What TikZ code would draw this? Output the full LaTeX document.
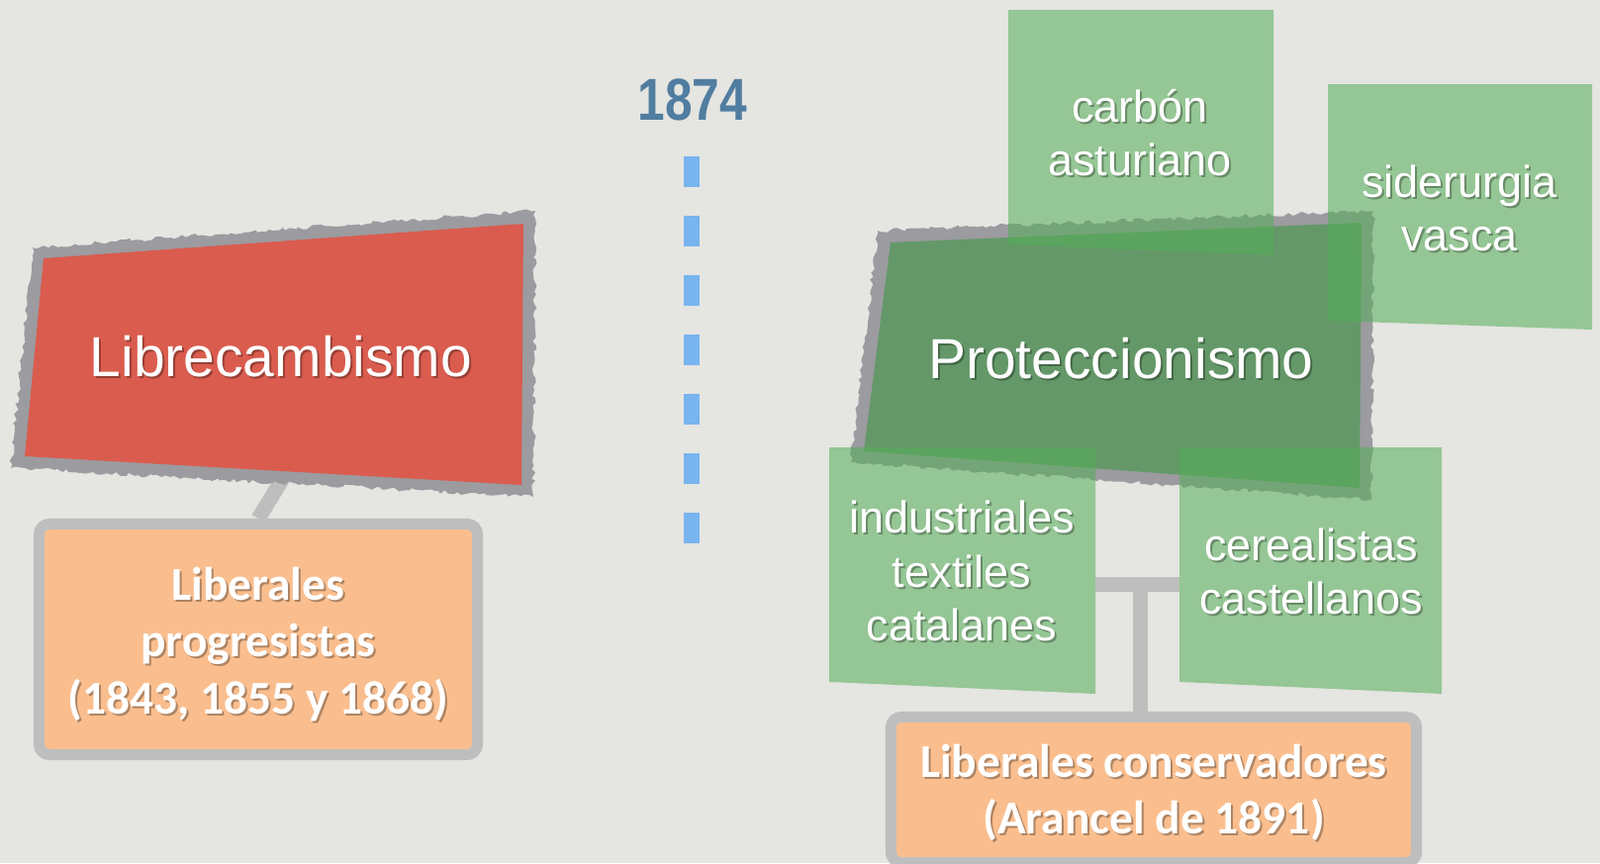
\documentclass[tikz,border=0pt]{standalone}
\usepackage{fontspec}
\setmainfont{Liberation Sans}
\newfontfamily\calibri{Carlito}
\newfontfamily\yearfont[FakeStretch=0.83]{Liberation Sans}
\usetikzlibrary{calc, positioning, decorations.pathmorphing}
\definecolor{paper}{RGB}{229,229,225}
\definecolor{librered}{RGB}{218,92,78}
\definecolor{edgegray}{RGB}{155,155,160}
\definecolor{linkgray}{RGB}{190,190,190}
\definecolor{partyorange}{RGB}{250,190,142}
\definecolor{protgreen}{RGB}{100,152,104}
\definecolor{sectorgreen}{RGB}{85,174,88}
\definecolor{yearblue}{RGB}{80,125,160}
\definecolor{dashblue}{RGB}{120,180,240}
\tikzset{
  roughedge/.style={fill=edgegray, decorate,
    decoration={random steps, segment length=1.2pt, amplitude=0.6pt}},
  partybox/.style={rectangle, rounded corners=3pt, fill=partyorange,
    draw=linkgray, line width=0.11cm, inner sep=0pt},
  sectorbox/.style={fill=sectorgreen, fill opacity=0.55},
  link/.style={draw=linkgray, line width=0.15cm},
  bigtext/.style={font=\fontsize{16.2}{19.5}\selectfont},
  sectortext/.style={font=\fontsize{12.8}{15.4}\selectfont, align=center},
  partytext/.style={font=\calibri\bfseries\fontsize{13.5}{16.3}\selectfont, align=center},
}
\newcommand{\labelwithshadow}[4]{% name, position, style, text
  \node[#3, text=black, text opacity=0.3] (#1-sh) at ($(#2)+(2,2)$) {#4};
  \node[#3, text=white] (#1) at (#2) {#4};
}

\begin{document}
\begin{tikzpicture}[x=0.01cm, y=-0.01cm]

  \useasboundingbox (0,0) rectangle (1617,872);
  \clip (0,0) rectangle (1617,872);
  \fill[paper] (0,0) rectangle (1617,872);

  %% Librecambismo
  \node[partybox, minimum width=4.43cm, minimum height=2.33cm] (progr) at (261,646) {};
  \coordinate (libre-bot) at (288,480);
  \draw[link] (libre-bot) -- (progr.north);
  \fill[roughedge] (33,250) -- (541,213) -- (539,502) -- (11,473) -- cycle;
  \fill[librered] (44,261) -- (529,226) -- (527,490) -- (25,461) -- cycle;
  \labelwithshadow{libre}{284,360}{bigtext}{Librecambismo}
  \labelwithshadow{progr-text}{261,651}{partytext}{Liberales\\progresistas\\(1843, 1855 y 1868)}

  %% 1874
  \node[font=\yearfont\bfseries\fontsize{17}{20}\selectfont, text=yearblue] (year) at (700,101) {1874};
  \coordinate (sep-top) at (699,158);
  \coordinate (sep-bot) at (699,549);
  \draw[dashblue, line width=0.16cm, dash pattern=on 0.31cm off 0.29cm] (sep-top) -- (sep-bot);

  %% Proteccionismo
  \fill[roughedge] (887,233) -- (1388,213) -- (1386,505) -- (860,467) -- cycle;
  \fill[protgreen] (900,245) -- (1376,225) -- (1374,493) -- (873,456) -- cycle;
  \labelwithshadow{prot}{1133,362}{bigtext}{Proteccionismo}

  %% sectors
  \fill[sectorbox] (1019,10) -- (1287,10) -- (1287,258) -- (1019,247) -- cycle;
  \fill[sectorbox] (1342,85) -- (1609,85) -- (1609,333) -- (1342,324) -- cycle;
  \fill[sectorbox] (838,452) -- (1107,452) -- (1107,701) -- (838,689) -- cycle;
  \fill[sectorbox] (1192,452) -- (1457,452) -- (1457,701) -- (1192,689) -- cycle;
  \labelwithshadow{carbon}{1152,134}{sectortext}{carbón\\asturiano}
  \labelwithshadow{sider}{1475,210}{sectortext}{siderurgia\\vasca}
  \labelwithshadow{indus}{972,577}{sectortext}{industriales\\textiles\\catalanes}
  \labelwithshadow{cereal}{1325,577}{sectortext}{cerealistas\\castellanos}

  %% Liberales conservadores
  \node[partybox, minimum width=5.31cm, minimum height=1.47cm] (conserv) at (1166,798) {};
  \coordinate (indus-r) at (1107,590);
  \coordinate (cereal-l) at (1192,590);
  \coordinate (fork) at (1152,590);
  \draw[link] (indus-r) -- (cereal-l);
  \draw[link] (fork) -- (fork |- conserv.north);
  \labelwithshadow{conserv-text}{1166,801}{partytext}{Liberales conservadores\\(Arancel de 1891)}

\end{tikzpicture}
\end{document}
